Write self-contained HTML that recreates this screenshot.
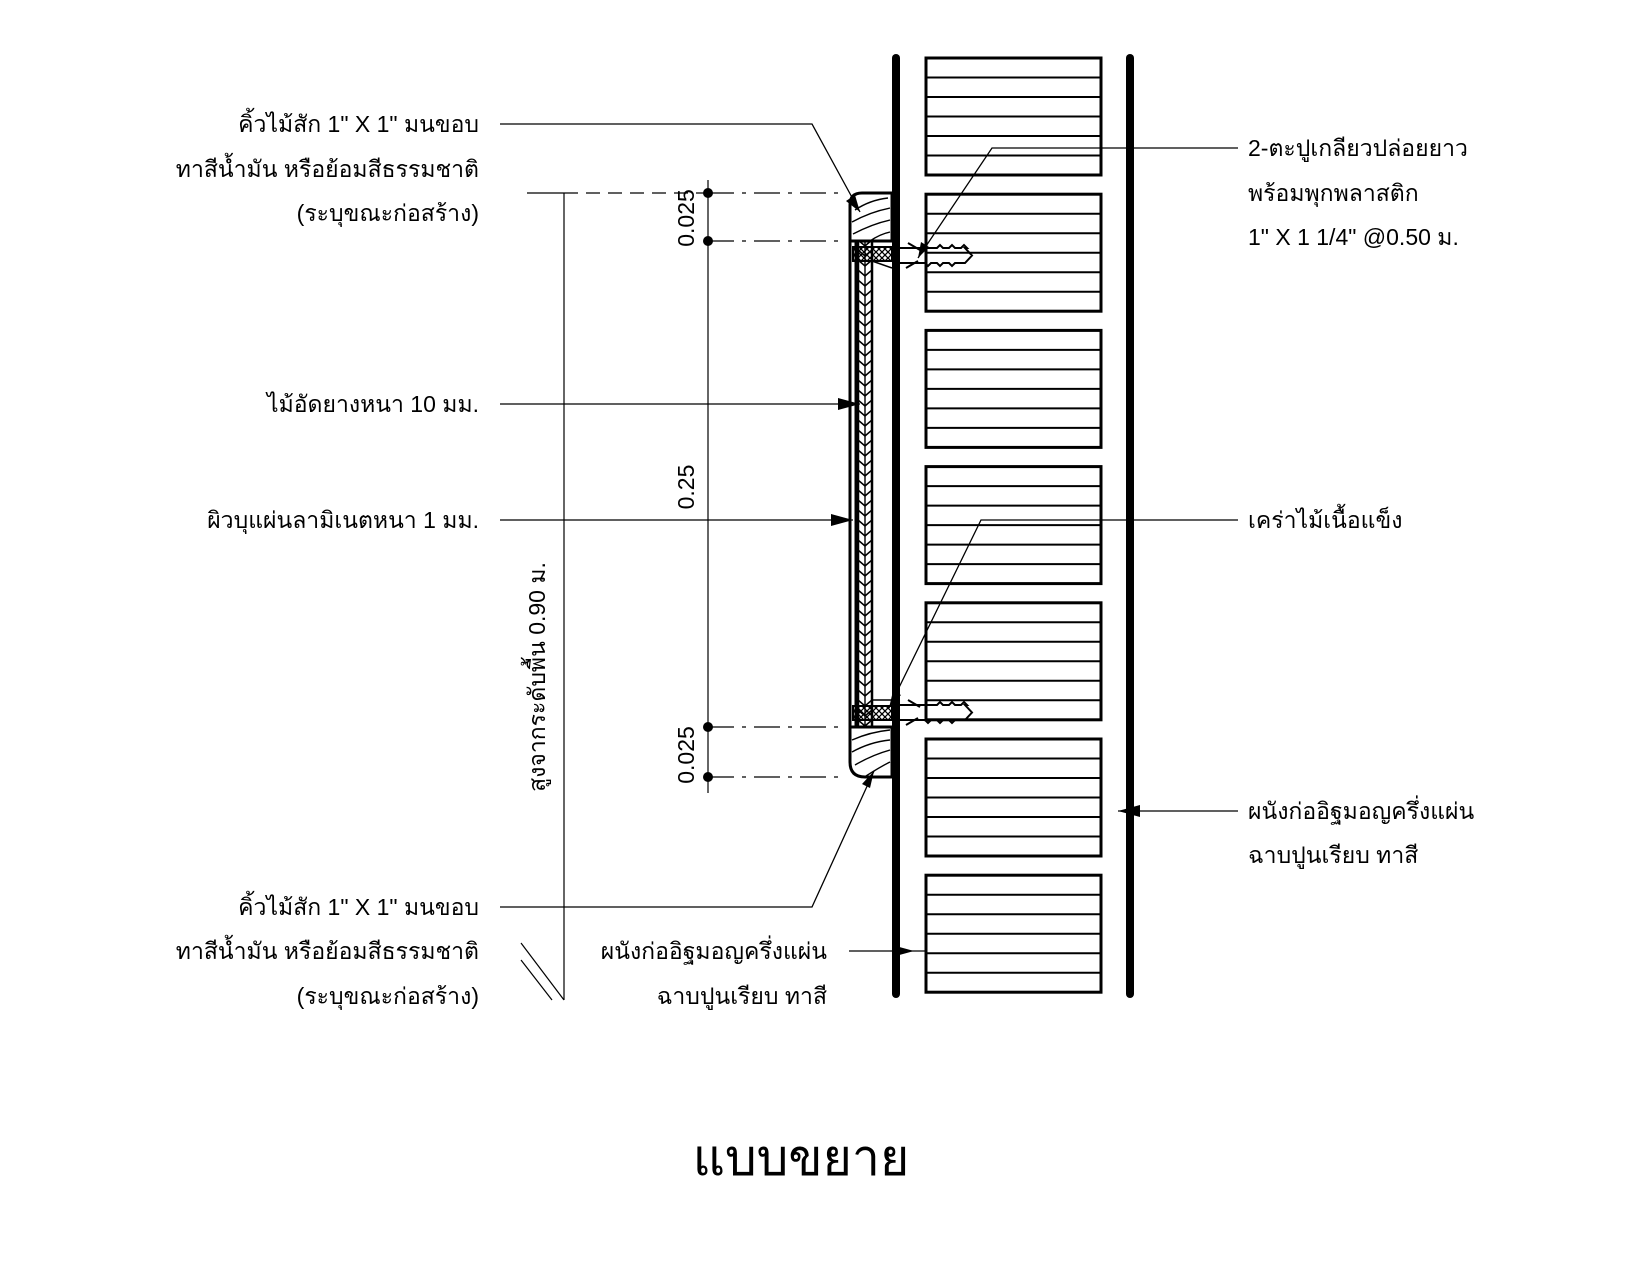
<!DOCTYPE html>
<html><head><meta charset="utf-8"><style>
html,body{margin:0;padding:0;background:#fff}
svg{display:block}
text{font-family:"Liberation Sans","DejaVu Sans",sans-serif;fill:#000}
</style></head><body>
<svg width="1650" height="1275" viewBox="0 0 1650 1275" xmlns="http://www.w3.org/2000/svg">
<defs>
<pattern id="chev" width="14" height="10" patternUnits="userSpaceOnUse" x="858" y="0">
<path d="M0,0 L7,6 L14,0" fill="none" stroke="#000" stroke-width="1.6"/>
<line x1="7" y1="0" x2="7" y2="10" stroke="#000" stroke-width="1.4"/>
</pattern>
<pattern id="xh" width="6" height="6" patternUnits="userSpaceOnUse">
<path d="M0,6 L6,0 M0,0 L6,6" stroke="#000" stroke-width="1.3"/>
</pattern>
</defs>

<line x1="896" y1="58" x2="896" y2="994" stroke="#000" stroke-width="8" stroke-linecap="round"/>
<line x1="1130" y1="58" x2="1130" y2="994" stroke="#000" stroke-width="8" stroke-linecap="round"/>

<g stroke="#000" fill="none">
<g id="b0">
<rect x="926" y="58" width="175" height="117" stroke-width="3"/>
<path d="M926,77.5H1101M926,97H1101M926,116.5H1101M926,136H1101M926,155.5H1101" stroke-width="2"/>
</g>
<use href="#b0" y="136.2"/>
<use href="#b0" y="272.4"/>
<use href="#b0" y="408.6"/>
<use href="#b0" y="544.8"/>
<use href="#b0" y="681"/>
<use href="#b0" y="817.2"/>
</g>

<path d="M892,193 H862 Q850,193 850,205 V241 H892 Z" fill="#fff" stroke="#000" stroke-width="3"/>
<path d="M855,210 Q870,200 888,198 M852,222 Q870,212 890,208 M853,234 Q872,224 890,220 M870,241 Q880,234 890,232" fill="none" stroke="#000" stroke-width="1.4"/>
<path d="M892,727 H850 V762 Q850,777 865,777 H892 Z" fill="#fff" stroke="#000" stroke-width="3"/>
<path d="M852,740 Q870,732 890,730 M852,752 Q870,742 890,740 M855,765 Q872,755 890,750 M866,776 Q880,767 890,762" fill="none" stroke="#000" stroke-width="1.4"/>

<rect x="850" y="241" width="6" height="486" fill="#fff" stroke="#000" stroke-width="3"/>
<rect x="858" y="241" width="14" height="486" fill="url(#chev)" stroke="#000" stroke-width="2.5"/>
<line x1="872" y1="241" x2="892" y2="241" stroke="#000" stroke-width="2"/>
<line x1="872" y1="727" x2="892" y2="727" stroke="#000" stroke-width="2"/>
<rect x="853" y="247" width="39" height="14" fill="url(#xh)" stroke="#000" stroke-width="2"/>
<rect x="853" y="706" width="39" height="14" fill="url(#xh)" stroke="#000" stroke-width="2"/>
<line x1="872" y1="261" x2="892" y2="268" stroke="#000" stroke-width="1.5"/>
<line x1="872" y1="700" x2="892" y2="700" stroke="#000" stroke-width="1.5"/>

<g fill="none" stroke="#000" stroke-width="2">
<path d="M900,248 H927 M900,263 H927"/>
<path d="M927,248 H937 l3,-3 3,3 6,0 3,-3 3,3 6,0 3,-3 3,3 H965 L972,255.5 L965,263 H955 l-3,3 -3,-3 -6,0 -3,3 -3,-3 -6,0 -3,3 -3,-3 H927"/>
<path d="M908,243 l12,7 M906,268 l12,-7"/>
<path d="M900,705 H927 M900,720 H927"/>
<path d="M927,705 H937 l3,-3 3,3 6,0 3,-3 3,3 6,0 3,-3 3,3 H965 L972,712.5 L965,720 H955 l-3,3 -3,-3 -6,0 -3,3 -3,-3 -6,0 -3,3 -3,-3 H927"/>
<path d="M908,700 l12,7 M906,725 l12,-7"/>
</g>

<g stroke="#000">
<line x1="708" y1="180" x2="708" y2="793" stroke-width="1.2"/>
<line x1="527" y1="193" x2="564" y2="193" stroke-width="1.2"/>
<line x1="564" y1="193" x2="708" y2="193" stroke-width="1.2" stroke-dasharray="14,8"/>
<line x1="564" y1="193" x2="564" y2="1000" stroke-width="1.2"/>
<line x1="521" y1="943" x2="564" y2="1000" stroke-width="1.2"/>
<line x1="521" y1="960" x2="552" y2="1000" stroke-width="1.2"/>
<g stroke-width="1.2" stroke-dasharray="26,8,4,8">
<line x1="708" y1="193" x2="846" y2="193"/>
<line x1="708" y1="241" x2="846" y2="241"/>
<line x1="708" y1="727" x2="846" y2="727"/>
<line x1="708" y1="777" x2="846" y2="777"/>
</g>
</g>
<g fill="#000"><circle cx="708" cy="193" r="5"/><circle cx="708" cy="241" r="5"/><circle cx="708" cy="727" r="5"/><circle cx="708" cy="777" r="5"/></g>
<g font-size="23">
<text transform="translate(694,218) rotate(-90)" text-anchor="middle">0.025</text>
<text transform="translate(694,487) rotate(-90)" text-anchor="middle">0.25</text>
<text transform="translate(694,755) rotate(-90)" text-anchor="middle">0.025</text>
<text transform="translate(545,677) rotate(-90)" text-anchor="middle">สูงจากระดับพื้น 0.90 ม.</text>
</g>

<g stroke="#000" stroke-width="1.3" fill="none">
<polyline points="500,124 812,124 860,212"/>
<line x1="500" y1="404" x2="860" y2="404"/>
<line x1="500" y1="520" x2="853" y2="520"/>
<polyline points="500,907 812,907 874,771"/>
<line x1="849" y1="951" x2="925" y2="951"/>
<polyline points="1238,148 992,148 918,258"/>
<polyline points="1238,520 981,520 889,708"/>
<line x1="1238" y1="811" x2="1118" y2="811"/>
</g>
<g fill="#000">
<polygon points="860,212 846,201 855,195"/>
<polygon points="860,404 838,398 838,410"/>
<polygon points="853,520 831,514 831,526"/>
<polygon points="874,771 870,788 862,784"/>
<polygon points="914,951 892,945 892,957"/>
<polygon points="918,258 921,242 929,247"/>
<polygon points="889,708 893,691 901,695"/>
<polygon points="1118,811 1140,805 1140,817"/>
</g>

<g font-size="23" text-anchor="end">
<text x="479" y="132">คิ้วไม้สัก 1" X 1" มนขอบ</text>
<text x="479" y="177">ทาสีน้ำมัน หรือย้อมสีธรรมชาติ</text>
<text x="479" y="221">(ระบุขณะก่อสร้าง)</text>
<text x="479" y="412">ไม้อัดยางหนา 10 มม.</text>
<text x="479" y="528">ผิวบุแผ่นลามิเนตหนา 1 มม.</text>
<text x="479" y="915">คิ้วไม้สัก 1" X 1" มนขอบ</text>
<text x="479" y="959">ทาสีน้ำมัน หรือย้อมสีธรรมชาติ</text>
<text x="479" y="1004">(ระบุขณะก่อสร้าง)</text>
<text x="827" y="959">ผนังก่ออิฐมอญครึ่งแผ่น</text>
<text x="827" y="1004">ฉาบปูนเรียบ ทาสี</text>
</g>
<g font-size="23">
<text x="1248" y="156">2-ตะปูเกลียวปล่อยยาว</text>
<text x="1248" y="201">พร้อมพุกพลาสติก</text>
<text x="1248" y="245">1" X 1 1/4" @0.50 ม.</text>
<text x="1248" y="528">เคร่าไม้เนื้อแข็ง</text>
<text x="1248" y="819">ผนังก่ออิฐมอญครึ่งแผ่น</text>
<text x="1248" y="863">ฉาบปูนเรียบ ทาสี</text>
</g>
<text x="801" y="1175" font-size="50" text-anchor="middle">แบบขยาย</text>
</svg>
</body></html>
